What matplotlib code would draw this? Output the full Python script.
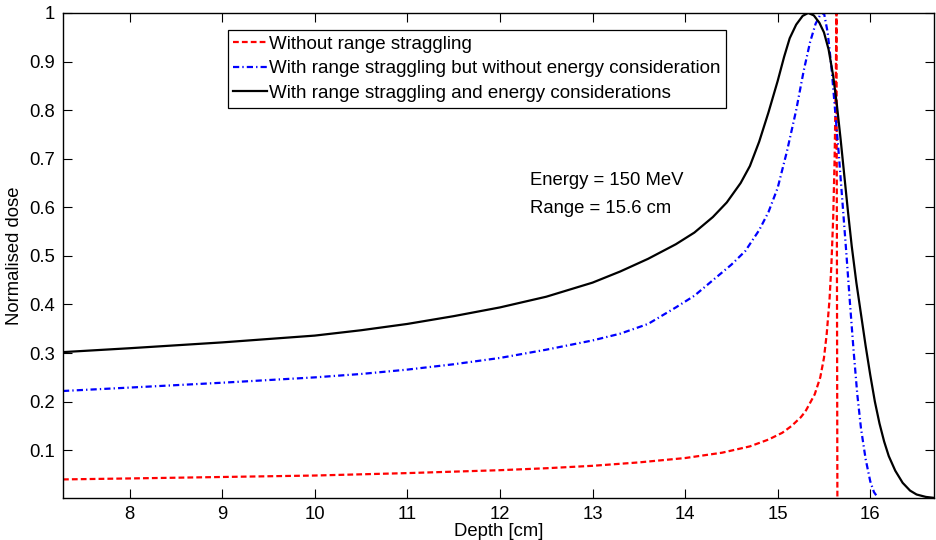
import matplotlib.pyplot as plt
import numpy as np

plt.rcParams['font.family'] = ['Liberation Sans', 'DejaVu Sans']

# Profundidad [cm] y dosis normalizada de cada curva
x_sin = [7.28, 8.0, 9.0, 10.0, 11.0, 12.0, 12.5, 13.0, 13.5, 14.0, 14.4, 14.7,
         14.9, 15.05, 15.15, 15.25, 15.3, 15.4, 15.46, 15.5, 15.53, 15.56, 15.58,
         15.6, 15.615, 15.627, 15.635, 15.645]
y_sin = [0.040, 0.042, 0.045, 0.048, 0.053, 0.059, 0.063, 0.068, 0.075, 0.084,
         0.095, 0.108, 0.122, 0.136, 0.150, 0.168, 0.180, 0.215, 0.250, 0.290,
         0.340, 0.410, 0.480, 0.580, 0.700, 0.850, 1.000, 0.000]

x_strag = [7.28, 8.0, 9.0, 10.0, 10.5, 11.0, 11.5, 12.0, 12.5, 13.0, 13.3, 13.6,
           13.9, 14.1, 14.3, 14.5, 14.65, 14.8, 14.9, 15.0, 15.1, 15.2, 15.28,
           15.35, 15.41, 15.46, 15.5, 15.54, 15.58, 15.62, 15.66, 15.7, 15.74,
           15.78, 15.82, 15.86, 15.9, 15.95, 16.0, 16.04, 16.08]
y_strag = [0.222, 0.229, 0.239, 0.250, 0.257, 0.266, 0.277, 0.290, 0.307, 0.326,
           0.340, 0.360, 0.394, 0.418, 0.450, 0.482, 0.510, 0.553, 0.590, 0.640,
           0.715, 0.800, 0.880, 0.940, 0.978, 0.996, 1.000, 0.960, 0.890, 0.800,
           0.710, 0.610, 0.510, 0.405, 0.305, 0.215, 0.145, 0.082, 0.036, 0.014,
           0.003]

x_energ = [7.28, 8.0, 9.0, 10.0, 10.5, 11.0, 11.5, 12.0, 12.5, 13.0, 13.3, 13.6,
           13.9, 14.1, 14.3, 14.45, 14.6, 14.7, 14.8, 14.9, 15.0, 15.07, 15.13,
           15.2, 15.27, 15.33, 15.39, 15.45, 15.5, 15.55, 15.6, 15.64, 15.68,
           15.72, 15.76, 15.8, 15.85, 15.9, 15.95, 16.0, 16.05, 16.1, 16.15, 16.2,
           16.27, 16.35, 16.43, 16.5, 16.6, 16.69]
y_energ = [0.302, 0.310, 0.322, 0.336, 0.347, 0.360, 0.376, 0.394, 0.416, 0.445,
           0.468, 0.494, 0.524, 0.548, 0.580, 0.610, 0.650, 0.685, 0.735, 0.795,
           0.860, 0.910, 0.948, 0.976, 0.994, 1.000, 0.995, 0.980, 0.960, 0.925,
           0.870, 0.810, 0.740, 0.665, 0.590, 0.520, 0.445, 0.380, 0.315, 0.255,
           0.200, 0.155, 0.118, 0.088, 0.058, 0.033, 0.017, 0.009, 0.004, 0.002]

etiquetas = ['Without range straggling',
             'With range straggling but without energy consideration',
             'With range straggling and energy considerations']

fig, ax = plt.subplots(figsize=(9.36, 5.4), dpi=100)
fig.subplots_adjust(left=0.0673, right=0.998, top=0.976, bottom=0.078)

ax.plot(x_sin, y_sin, color='red', lw=1.6, ls=(0, (2.6, 1.4)), label=etiquetas[0])
ax.plot(x_strag, y_strag, color='blue', lw=1.6, ls=(0, (2.8, 1.4, 0.6, 1.4)),
        label=etiquetas[1])
ax.plot(x_energ, y_energ, color='black', lw=1.6, label=etiquetas[2])

ax.set_xlim(7.28, 16.69)
ax.set_ylim(0.002, 1.0)
ax.set_xticks(np.arange(8, 17))
ax.set_yticks(np.arange(1, 11) / 10)
ax.set_yticklabels(['0.1', '0.2', '0.3', '0.4', '0.5', '0.6', '0.7', '0.8', '0.9', '1'])
ax.tick_params(direction='in', length=6.5, width=0.8, top=True, right=True,
               labelsize=13.3, pad=6)
for s in ax.spines.values():
    s.set_linewidth(1.0)

ax.set_xlabel('Depth [cm]', fontsize=13.3, labelpad=0)
ax.set_ylabel('Normalised dose', fontsize=13.3, labelpad=4)

ax.text(12.32, 0.655, 'Energy = 150 MeV', fontsize=13.3, va='center')
ax.text(12.32, 0.597, 'Range = 15.6 cm', fontsize=13.3, va='center')

leg = ax.legend(loc='upper left', bbox_to_anchor=(0.189, 0.965), borderaxespad=0,
                fontsize=13.5, handlelength=1.8, handletextpad=0.1,
                labelspacing=0.4, borderpad=0.3, fancybox=False, framealpha=1)
leg.get_frame().set_edgecolor('black')
leg.get_frame().set_linewidth(0.9)

plt.savefig('out.png', dpi=100)
